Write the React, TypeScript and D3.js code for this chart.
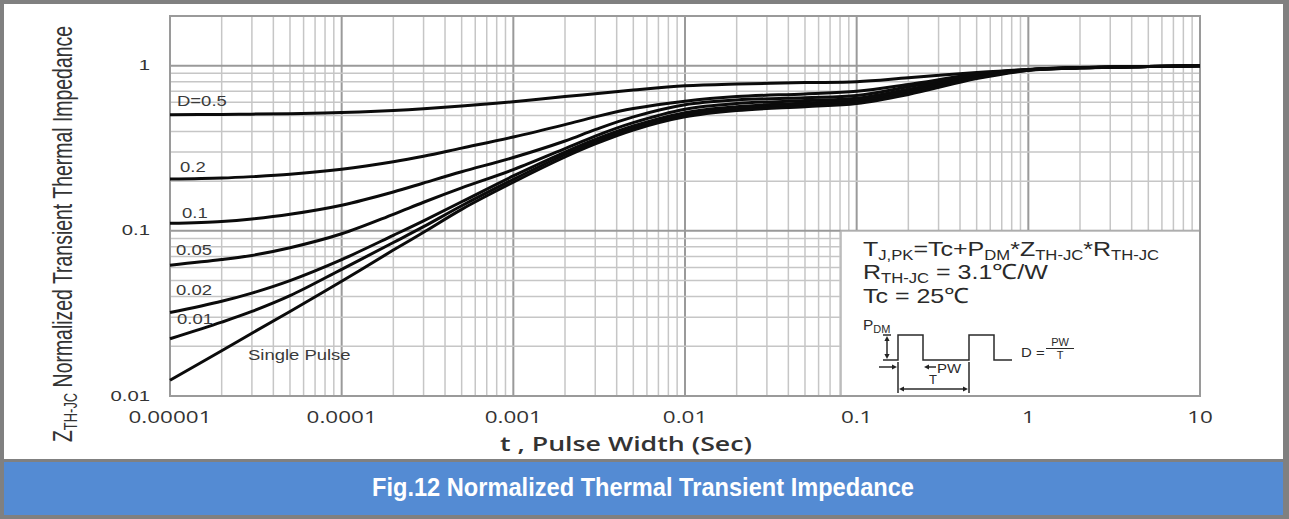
import * as d3 from "d3";

// pulse width (s) sample points shared by all curves
const pulseWidth = [
  1e-5, 2e-5, 3e-5, 5e-5, 1e-4, 2e-4, 3e-4, 5e-4, 1e-3, 2e-3, 3e-3, 5e-3,
  1e-2, 2e-2, 5e-2, 0.1, 0.2, 0.5, 1, 2, 5, 10,
];

// normalized Zth-jc
const zD05 = [0.505, 0.507, 0.509, 0.512, 0.52, 0.535, 0.548, 0.57, 0.605, 0.65, 0.677, 0.712, 0.755, 0.775, 0.79, 0.8, 0.845, 0.91, 0.95, 0.975, 0.99, 1.0];
const zD02 = [0.206, 0.209, 0.213, 0.22, 0.236, 0.262, 0.283, 0.317, 0.37, 0.44, 0.49, 0.55, 0.61, 0.65, 0.675, 0.7, 0.77, 0.89, 0.948, 0.975, 0.99, 1.0];
const zD01 = [0.111, 0.114, 0.118, 0.126, 0.143, 0.172, 0.195, 0.228, 0.278, 0.35, 0.41, 0.49, 0.58, 0.62, 0.64, 0.66, 0.745, 0.88, 0.946, 0.974, 0.99, 1.0];
const zD005 = [0.062, 0.067, 0.071, 0.079, 0.096, 0.126, 0.149, 0.182, 0.235, 0.315, 0.375, 0.452, 0.545, 0.59, 0.615, 0.635, 0.72, 0.865, 0.944, 0.973, 0.99, 1.0];
const zD002 = [0.032, 0.0375, 0.042, 0.05, 0.067, 0.094, 0.115, 0.15, 0.215, 0.3, 0.358, 0.432, 0.52, 0.565, 0.595, 0.62, 0.7, 0.855, 0.942, 0.972, 0.99, 1.0];
const zD001 = [0.0222, 0.028, 0.0325, 0.0405, 0.0585, 0.085, 0.106, 0.142, 0.205, 0.29, 0.347, 0.42, 0.505, 0.55, 0.58, 0.605, 0.685, 0.845, 0.94, 0.971, 0.99, 1.0];
const zSingle = [0.01245, 0.0188, 0.024, 0.0325, 0.0495, 0.0765, 0.098, 0.135, 0.197, 0.28, 0.336, 0.408, 0.49, 0.535, 0.565, 0.59, 0.67, 0.835, 0.937, 0.97, 0.99, 1.0];

const curveNames = ["D=0.5", "0.2", "0.1", "0.05", "0.02", "0.01", "Single Pulse"];
const curveValues = [zD05, zD02, zD01, zD005, zD002, zD001, zSingle];

const xTicks = [1e-5, 1e-4, 1e-3, 1e-2, 1e-1, 1, 10];
const xTickLabels = ["0.00001", "0.0001", "0.001", "0.01", "0.1", "1", "10"];
const yTicks = [0.01, 0.1, 1];
const yTickLabels = ["0.01", "0.1", "1"];

const W = 1289;
const H = 519;
const plot = { left: 170, right: 1200, top: 16, bottom: 396 };
// label offsets from each curve's first point
const labelOffset = [
  [7, -9],
  [10, -7],
  [12, -5],
  [6, -10],
  [6, -18],
  [7, -15],
  [78, -20],
];

const sans = "Arial, 'Liberation Sans', sans-serif";
const open = "'Open Sans', Arial, sans-serif";

const isDecade = (v: number) => {
  const l = Math.log10(v);
  return Math.abs(l - Math.round(l)) < 1e-6;
};

function Arrow({ x, y, dir }: { x: number; y: number; dir: "l" | "r" | "u" | "d" }) {
  const s = 5;
  const w = 2.6;
  let d = "";
  if (dir === "r") d = `M${x},${y} L${x - s},${y - w} L${x - s},${y + w}Z`;
  if (dir === "l") d = `M${x},${y} L${x + s},${y - w} L${x + s},${y + w}Z`;
  if (dir === "u") d = `M${x},${y} L${x - w},${y + s} L${x + w},${y + s}Z`;
  if (dir === "d") d = `M${x},${y} L${x - w},${y - s} L${x + w},${y - s}Z`;
  return <path d={d} fill="#222" />;
}

function LegendBox() {
  const x0 = 841;
  const y0 = 231;
  const sub = { fontSize: 14 };
  const ink = "#2a2a2a";
  return (
    <g>
      <rect x={x0} y={y0} width={plot.right - x0} height={plot.bottom - y0} fill="#fff" stroke="#b5b5b5" strokeWidth={1.5} />
      <g fontFamily={sans} fill={ink}>
        <text transform="translate(863,256) scale(1.19,1)" fontSize={21}>
          T<tspan {...sub} dy={3.5}>J,PK</tspan>
          <tspan dy={-3.5}>=Tc+P</tspan>
          <tspan {...sub} dy={3.5}>DM</tspan>
          <tspan dy={-3.5}>*Z</tspan>
          <tspan {...sub} dy={3.5}>TH-JC</tspan>
          <tspan dy={-3.5}>*R</tspan>
          <tspan {...sub} dy={3.5}>TH-JC</tspan>
        </text>
        <text transform="translate(863,279) scale(1.19,1)" fontSize={21}>
          R<tspan {...sub} dy={3.5}>TH-JC</tspan>
          <tspan dy={-3.5}> = 3.1℃/W</tspan>
        </text>
        <text transform="translate(863,303) scale(1.19,1)" fontSize={21}>
          Tc = 25℃
        </text>
        <text transform="translate(863,330) scale(1.1,1)" fontSize={14}>
          P<tspan fontSize={10} dy={3}>DM</tspan>
        </text>
        <text transform="translate(937,373) scale(1.15,1)" fontSize={13}>PW</text>
        <text x={933} y={384} fontSize={13} textAnchor="middle">T</text>
        <text transform="translate(1021,357) scale(1.15,1)" fontSize={13}>D =</text>
        <text x={1060} y={346} fontSize={11} textAnchor="middle">PW</text>
        <text x={1060} y={359} fontSize={11} textAnchor="middle">T</text>
      </g>
      <g stroke={ink} strokeWidth={1.5} fill="none">
        <path d="M883,360 H898 V335 H923 V360 H969 V335 H994 V360 H1012" />
        <path d="M883,335 H891" />
        <path d="M887,339 V356" />
        <path d="M879,367 H894" />
        <path d="M927,367 H936" />
        <path d="M898,362 V393 M969,362 V393" />
        <path d="M902,389 H965" />
        <path d="M1046,348.5 H1074" strokeWidth={1} />
      </g>
      <Arrow x={887} y={336} dir="u" />
      <Arrow x={887} y={359} dir="d" />
      <Arrow x={897} y={367} dir="r" />
      <Arrow x={924} y={367} dir="l" />
      <Arrow x={899} y={389} dir="l" />
      <Arrow x={968} y={389} dir="r" />
    </g>
  );
}

export default function App() {
  const xScale = d3.scaleLog().domain([1e-5, 10]).range([plot.left, plot.right]);
  const yScale = d3.scaleLog().domain([0.01, 2]).range([plot.bottom, plot.top]);

  const line = d3
    .line<[number, number]>()
    .x((d) => xScale(d[0]))
    .y((d) => yScale(d[1]))
    .curve(d3.curveCatmullRom.alpha(0.5));

  const xGrid = xScale.ticks();
  const yGrid = yScale.ticks().filter((v) => v < 2);

  return (
    <svg width={W} height={H} style={{ position: "absolute", left: 0, top: 0 }}>
      {/* frame and caption band */}
      <rect x={0} y={0} width={W} height={H} fill="#808080" />
      <rect x={4} y={4} width={1279} height={455} fill="#fff" />
      <rect x={4} y={462} width={1279} height={53} fill="#548bd3" />
      <text
        x={643}
        y={496}
        fill="#fff"
        fontFamily="'Liberation Sans Narrow', 'Arial Narrow', Arial, sans-serif"
        fontWeight="bold"
        fontSize={25}
        textAnchor="middle"
        textLength={542}
        lengthAdjust="spacingAndGlyphs"
      >
        Fig.12 Normalized Thermal Transient Impedance
      </text>

      {/* grid */}
      <g>
        {xGrid.map((v) => (
          <line
            key={`vx-${v}`}
            x1={xScale(v)}
            x2={xScale(v)}
            y1={plot.top}
            y2={plot.bottom}
            stroke={isDecade(v) ? "#9a9a9a" : "#c6c6c6"}
            strokeWidth={isDecade(v) ? 2 : 1.5}
          />
        ))}
        {yGrid.map((v) => (
          <line
            key={`hy-${v}`}
            x1={plot.left}
            x2={plot.right}
            y1={yScale(v)}
            y2={yScale(v)}
            stroke={isDecade(v) ? "#9a9a9a" : "#c6c6c6"}
            strokeWidth={isDecade(v) ? 2 : 1.5}
          />
        ))}
      </g>

      <LegendBox />

      <rect
        x={plot.left}
        y={plot.top}
        width={plot.right - plot.left}
        height={plot.bottom - plot.top}
        fill="none"
        stroke="#9a9a9a"
        strokeWidth={2}
      />

      {/* curves */}
      <g fill="none" stroke="#0b0b0b" strokeWidth={3} strokeLinejoin="round">
        {curveValues.map((vals, i) => (
          <path key={curveNames[i]} d={line(pulseWidth.map((t, j) => [t, vals[j]]))!} />
        ))}
      </g>
      <g fontFamily={sans} fontSize={14} fill="#3a3a3a">
        {curveNames.map((name, i) => (
          <text
            key={`lbl-${name}`}
            transform={`translate(${xScale(pulseWidth[0]) + labelOffset[i][0]},${
              yScale(curveValues[i][0]) + labelOffset[i][1]
            }) scale(1.32,1)`}
          >
            {name}
          </text>
        ))}
      </g>

      {/* axes labels */}
      <g fontFamily={sans} fontSize={14} fill="#333" textAnchor="end">
        {yTicks.map((v, i) => (
          <text key={`yt-${v}`} transform={`translate(150,${yScale(v) + 4.5}) scale(1.45,1)`}>
            {yTickLabels[i]}
          </text>
        ))}
      </g>
      <g fontFamily={open} fontSize={15.5} fill="#333" textAnchor="middle">
        {xTicks.map((v, i) => (
          <text key={`xt-${v}`} transform={`translate(${xScale(v)},423) scale(1.45,1)`}>
            {xTickLabels[i]}
          </text>
        ))}
      </g>
      <text
        x={626}
        y={451}
        fontFamily={open}
        fontWeight={600}
        fontSize={20}
        fill="#333"
        textAnchor="middle"
        textLength={252}
        lengthAdjust="spacingAndGlyphs"
      >
        t , Pulse Width (Sec)
      </text>
      <text
        transform="translate(72,234) rotate(-90) scale(0.72,1)"
        fontFamily={sans}
        fontSize={27}
        fill="#333"
        textAnchor="middle"
      >
        Z<tspan fontSize={18} dy={5}>TH-JC</tspan>
        <tspan dy={-5}> Normalized Transient Thermal Impedance</tspan>
      </text>
    </svg>
  );
}
